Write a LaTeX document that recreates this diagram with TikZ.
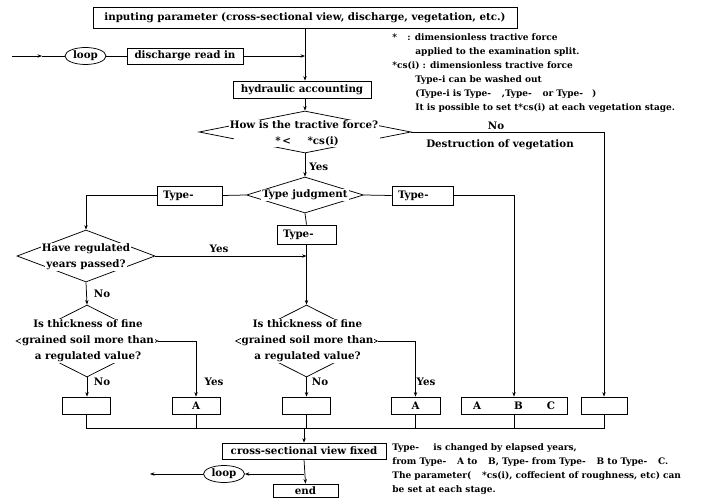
\documentclass[tikz,border=0pt]{standalone}
\usepackage{fontspec}
\setmainfont{DejaVu Serif}
\usetikzlibrary{shapes.geometric,arrows.meta}
\begin{document}
\begin{tikzpicture}[x=1pt,y=-1pt,
  line width=0.75pt,
  mainfont/.style={font=\bfseries\fontsize{10.3}{16}\selectfont},
  notefont/.style={font=\bfseries\fontsize{9}{10}\selectfont},
  box/.style={mainfont, draw, rectangle, inner sep=0pt, minimum width=#1, minimum height=17pt},
  tbox/.style={mainfont, draw, rectangle, inner ysep=0pt, inner xsep=6pt, minimum height=19pt, text width=#1, align=left},
  oval/.style={mainfont, draw, ellipse, inner sep=0pt, minimum width=41pt, minimum height=17pt},
  dia/.style 2 args={draw, diamond, inner sep=0pt, minimum width=#1, minimum height=#2},
  dtext/.style={mainfont, fill=white, inner sep=1pt, align=center},
  lbl/.style={mainfont, inner sep=0pt},
  note/.style={notefont, inner sep=0pt, anchor=base west},
  arr/.style={-{Stealth[length=4.5pt,width=3.4pt]}}
]
\useasboundingbox (0,0) rectangle (708,497);

% top part
\node[box=424pt, minimum height=21pt] (top) at (305,18) {inputing parameter (cross-sectional view, discharge, vegetation, etc.)};
\node[oval] (loop1) at (85.5,56) {loop};
\node[box=116pt, minimum height=16pt] (dis) at (185,56) {discharge read in};
\node[box=138pt] (hyd) at (302,89.5) {hydraulic accounting};
\coordinate (in1) at (12,56);
\coordinate (in2) at (42,56);
\draw[arr] (in1) -- (in2);
\draw (in2) -- (loop1.west);
\draw (loop1.east) -- (dis.west);
\draw[arr] (dis.east) -- (dis.east -| top.south);
\draw[arr] (top.south) -- (top.south |- hyd.north);

% diamond 1
\node[dia={212pt}{42pt}] (d1) at (305,132) {};
\node[dtext] (d1a) at (304,125) {How is the tractive force?};
\node[dtext, minimum width=146pt] (d1b) at (307,141) {*\,<\hspace{1.6em}*cs(i)};
\draw[arr] (hyd.south -| d1.north) -- (d1.north);

% type judgment
\node[dia={117pt}{36pt}] (d2) at (305,195) {};
\node[dtext] (d2a) at (305,195) {Type judgment};
\draw[arr] (d1.south) -- (d2.north);
\node[lbl, anchor=west] (yes1) at (309,167) {Yes};

\node[tbox=53pt] (typeL) at (189.5,195.5) {Type-};
\node[tbox=49pt] (typeR) at (422.5,195.5) {Type-};
\node[tbox=47pt] (typeM) at (306.5,234.5) {Type-};
\draw (d2.west) -- (typeL.east);
\draw (d2.east) -- (typeR.west);
\draw (d2.south) -- (typeM.north);

% right branch of diamond 1
\node[lbl] (no1) at (496,126) {No};
\node[lbl] (destr) at (500,145) {Destruction of vegetation};

% diamond 3 (regulated years)
\node[dia={138pt}{52pt}] (d3) at (86,256) {};
\node[dtext] (d3a) at (86,249) {Have regulated};
\node[dtext] (d3b) at (86,265) {years passed?};
\draw[arr] (typeL.west) -| (d3.north);
\coordinate (j2) at (306.5,256);
\draw[arr] (d3.east) -- (j2);
\node[lbl] (yes2) at (219,249) {Yes};

% diamonds 4 and 5 (thickness)
\node[dia={142pt}{72pt}] (d4) at (87,341) {};
\node[dtext, inner ysep=1pt] (d4a) at (88,341) {Is thickness of fine\\grained soil more than\\a regulated value?};
\node[dia={142pt}{72pt}] (d5) at (306.5,341) {};
\node[dtext, inner ysep=1pt] (d5a) at (307.5,341) {Is thickness of fine\\grained soil more than\\a regulated value?};
\draw[arr] (d3.south) -- (d4.north);
\node[lbl] (no2) at (102,294) {No};
\draw[arr] (typeM.south) -- (d5.north);

% bottom boxes
\node[box=48pt] (eL) at (86,405.5) {};
\node[box=48pt] (aL) at (196,405.5) {A};
\node[box=48pt] (eM) at (306,405.5) {};
\node[box=49pt] (aR) at (415.5,405.5) {A};
\node[box=106pt] (abc) at (514,405.5) {A\hspace{33pt}B\hspace{24pt}C};
\node[box=46pt] (eR) at (604,405.5) {};

\draw[arr] (d4.south) -- (d4.south |- eL.north);
\draw[arr] (d4.east) -| (aL.north);
\draw[arr] (d5.south) -- (d5.south |- eM.north);
\draw[arr] (d5.east) -| (aR.north);
\draw[arr] (typeR.east) -| (abc.north);
\draw[arr] (d1.east) -| (eR.north);
\node[lbl] (no3) at (102,382) {No};
\node[lbl] (yes3) at (214,382) {Yes};
\node[lbl] (no4) at (320,382) {No};
\node[lbl] (yes4) at (426,382) {Yes};

% merge line
\coordinate (mL) at (86,428);
\coordinate (mR) at (604,428);
\draw (eL.south) -- (mL) -- (mR) -- (eR.south);
\draw (aL.south) -- (aL.south |- mL);
\draw (eM.south) -- (eM.south |- mL);
\draw (aR.south) -- (aR.south |- mL);
\draw (abc.south) -- (abc.south |- mL);

% final part
\node[box=164pt, minimum height=16pt] (cross) at (304,451) {cross-sectional view fixed};
\node[box=65pt, minimum height=13pt] (end) at (305.5,490.5) {end};
\node[oval] (loop2) at (224,474) {loop};
\draw[arr] (cross.north |- mL) -- (cross.north);
\draw[arr] (cross.south) -- (end.north);
\coordinate (lp) at (cross.south |- loop2);
\coordinate (out) at (150,474);
\draw[arr] (lp) -- (loop2.east);
\draw[arr] (loop2.west) -- (out);

% notes top right
\node[note] (n1a) at (392,41) {*};
\node[note] (n1b) at (407,41) {: dimensionless tractive force};
\node[note] (n2) at (415,55) {applied to the examination split.};
\node[note] (n3) at (392,69) {*cs(i) : dimensionless tractive force};
\node[note] (n4) at (415,83) {Type-i can be washed out};
\node[note] (n5) at (415,97) {(Type-i is Type-\hspace{1.2em},Type-\hspace{1.2em}or Type-\hspace{1em})};
\node[note] (n6) at (415,111) {It is possible to set t*cs(i) at each vegetation stage.};

% notes bottom right
\node[note] (b1) at (392,450) {Type-\hspace{1.6em}is changed by elapsed years,};
\node[note] (b2) at (392,464) {from Type-\hspace{1.2em}A to\hspace{1.2em}B, Type- from Type-\hspace{1.2em}B to Type-\hspace{1.2em}C.};
\node[note] (b3) at (392,478) {The parameter(\hspace{1.2em}*cs(i), coffecient of roughness, etc) can};
\node[note] (b4) at (392,492) {be set at each stage.};
\end{tikzpicture}
\end{document}
